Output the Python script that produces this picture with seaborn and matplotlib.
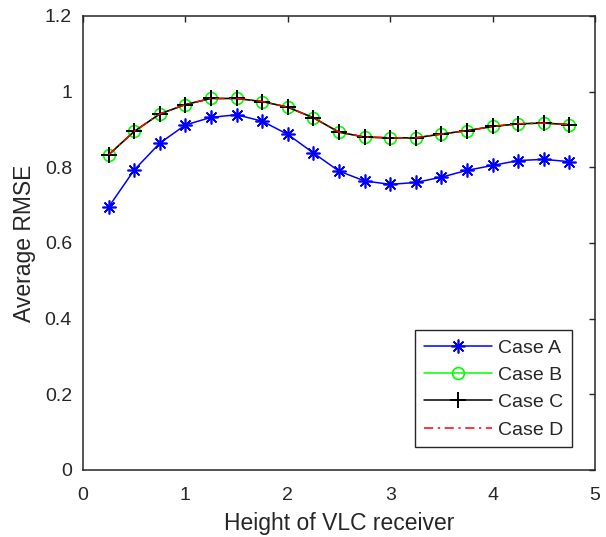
import matplotlib
matplotlib.use("Agg")
import matplotlib.pyplot as plt
import seaborn as sns
import pandas as pd

# Receiver heights and average RMSE per case
heights = [0.25, 0.5, 0.75, 1.0, 1.25, 1.5, 1.75, 2.0, 2.25, 2.5,
           2.75, 3.0, 3.25, 3.5, 3.75, 4.0, 4.25, 4.5, 4.75]
case_a = [0.695, 0.793, 0.864, 0.912, 0.932, 0.939, 0.922, 0.887, 0.838, 0.790,
          0.764, 0.755, 0.760, 0.774, 0.792, 0.805, 0.818, 0.821, 0.815]
case_b = [0.833, 0.895, 0.941, 0.966, 0.982, 0.982, 0.974, 0.959, 0.931, 0.893,
          0.880, 0.878, 0.878, 0.888, 0.897, 0.908, 0.915, 0.917, 0.913]
case_c = [0.833, 0.895, 0.941, 0.966, 0.982, 0.982, 0.974, 0.959, 0.931, 0.893,
          0.880, 0.878, 0.878, 0.888, 0.897, 0.908, 0.915, 0.917, 0.913]
case_d = [0.833, 0.895, 0.941, 0.966, 0.982, 0.982, 0.974, 0.959, 0.931, 0.893,
          0.880, 0.878, 0.878, 0.888, 0.897, 0.908, 0.915, 0.917, 0.913]
labels = ["Case A", "Case B", "Case C", "Case D"]

x_ticks = [0, 1, 2, 3, 4, 5]
y_ticks = [0, 0.2, 0.4, 0.6, 0.8, 1.0, 1.2]
y_tick_labels = ["0", "0.2", "0.4", "0.6", "0.8", "1", "1.2"]

sns.set_theme(style="white")
plt.rcParams["font.family"] = ["Liberation Sans", "DejaVu Sans"]
ink = "#262626"

df = pd.DataFrame({"height": heights, "Case A": case_a, "Case B": case_b,
                   "Case C": case_c, "Case D": case_d})

fig = plt.figure(figsize=(6.06, 5.37), dpi=100)
ax = fig.add_axes([83 / 606, 1 - 470 / 537, 512 / 606, 454 / 537])

styles = {
    "Case A": dict(color="#0000ff", marker=(8, 2, 0), markersize=10,
                   linestyle="-", markeredgewidth=1.2, markerfacecolor="#0000ff",
                   markeredgecolor="#0000ff"),
    "Case B": dict(color="#00ff00", marker="o", markersize=8.5, linestyle="-",
                   markerfacecolor="none", markeredgewidth=1.2,
                   markeredgecolor="#00ff00"),
    "Case C": dict(color="#000000", marker="+", markersize=11, linestyle="-",
                   markeredgewidth=1.4, markeredgecolor="#000000"),
    "Case D": dict(color="#ff0000", linestyle=(0, (6, 3, 1.5, 3)),
                   marker="None"),
}

for name in labels:
    sns.lineplot(data=df, x="height", y=name, ax=ax, label=name,
                 color=styles[name]["color"], linewidth=1.1)
    line = ax.lines[-1]
    for key, val in styles[name].items():
        getattr(line, "set_" + key)(val)

ax.set_xlim(0, 5)
ax.set_ylim(0, 1.2)
ax.set_xticks(x_ticks)
ax.set_xticklabels([str(t) for t in x_ticks])
ax.set_yticks(y_ticks)
ax.set_yticklabels(y_tick_labels)

ax.tick_params(axis="both", direction="in", length=4, width=1, colors=ink,
               labelsize=14, top=True, right=True)
ax.tick_params(axis="x", pad=12)
ax.tick_params(axis="y", pad=8)
for s in ax.spines.values():
    s.set_visible(True)
    s.set_color(ink)
    s.set_linewidth(1.1)

ax.set_xlabel("Height of VLC receiver", fontsize=16.5, color=ink, labelpad=6)
ax.set_ylabel("Average RMSE", fontsize=16.5, color=ink, labelpad=6)

leg = ax.legend(loc="lower right", bbox_to_anchor=(0.955, 0.05), fontsize=14,
                handlelength=3.5, frameon=True, fancybox=False, framealpha=1,
                borderpad=0.45, labelspacing=0.5, handletextpad=0.3,
                borderaxespad=0)
leg.get_frame().set_edgecolor(ink)
leg.get_frame().set_linewidth(1.0)

fig.savefig("out.png", dpi=100)
